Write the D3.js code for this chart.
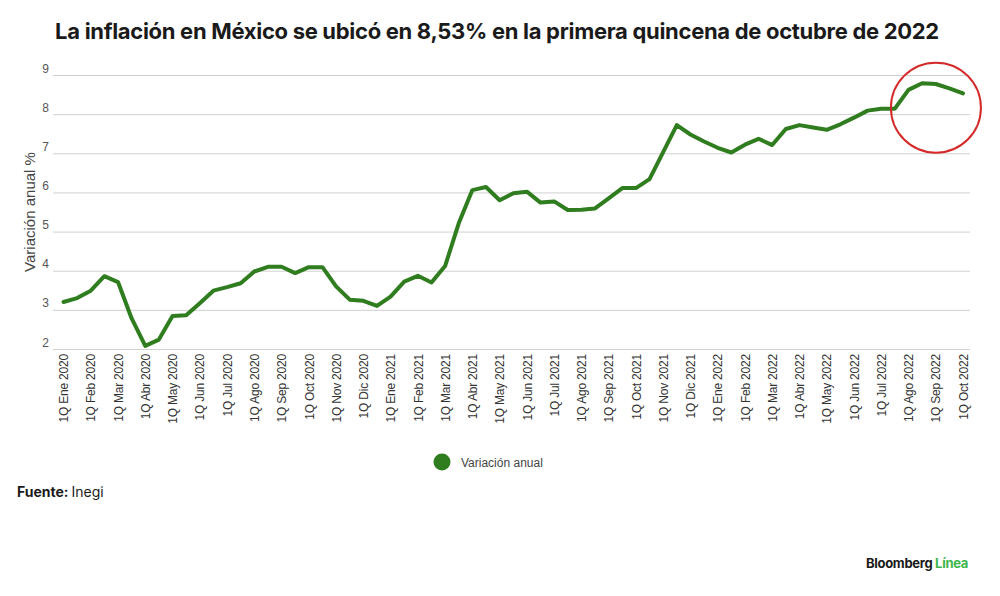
<!DOCTYPE html>
<html>
<head>
<meta charset="utf-8">
<script src="https://cdn.jsdelivr.net/npm/d3@7"></script>
<style>
  html, body { margin: 0; padding: 0; background: #fff; }
  svg { display: block; }
</style>
</head>
<body>
<svg id="chart" width="1000" height="596"></svg>
<script>
const title = "La inflación en México se ubicó en 8,53% en la primera quincena de octubre de 2022";
const seriesName = "Variación anual";
const yAxisTitle = "Variación anual %";

// Biweekly periods (1Q = primera quincena, 2Q = segunda quincena)
const periods = [
  "1Q Ene 2020","2Q Ene 2020","1Q Feb 2020","2Q Feb 2020","1Q Mar 2020","2Q Mar 2020",
  "1Q Abr 2020","2Q Abr 2020","1Q May 2020","2Q May 2020","1Q Jun 2020","2Q Jun 2020",
  "1Q Jul 2020","2Q Jul 2020","1Q Ago 2020","2Q Ago 2020","1Q Sep 2020","2Q Sep 2020",
  "1Q Oct 2020","2Q Oct 2020","1Q Nov 2020","2Q Nov 2020","1Q Dic 2020","2Q Dic 2020",
  "1Q Ene 2021","2Q Ene 2021","1Q Feb 2021","2Q Feb 2021","1Q Mar 2021","2Q Mar 2021",
  "1Q Abr 2021","2Q Abr 2021","1Q May 2021","2Q May 2021","1Q Jun 2021","2Q Jun 2021",
  "1Q Jul 2021","2Q Jul 2021","1Q Ago 2021","2Q Ago 2021","1Q Sep 2021","2Q Sep 2021",
  "1Q Oct 2021","2Q Oct 2021","1Q Nov 2021","2Q Nov 2021","1Q Dic 2021","2Q Dic 2021",
  "1Q Ene 2022","2Q Ene 2022","1Q Feb 2022","2Q Feb 2022","1Q Mar 2022","2Q Mar 2022",
  "1Q Abr 2022","2Q Abr 2022","1Q May 2022","2Q May 2022","1Q Jun 2022","2Q Jun 2022",
  "1Q Jul 2022","2Q Jul 2022","1Q Ago 2022","2Q Ago 2022","1Q Sep 2022","2Q Sep 2022",
  "1Q Oct 2022"
];

const values = [
  3.20, 3.30, 3.49, 3.86, 3.71, 2.78,
  2.08, 2.24, 2.84, 2.86, 3.17, 3.49,
  3.58, 3.68, 3.98, 4.10, 4.10, 3.94,
  4.09, 4.09, 3.60, 3.26, 3.23, 3.10,
  3.34, 3.72, 3.87, 3.70, 4.12, 5.21,
  6.06, 6.14, 5.80, 5.98, 6.02, 5.74,
  5.77, 5.55, 5.56, 5.59, 5.85, 6.11,
  6.11, 6.34, 7.03, 7.72, 7.48, 7.30,
  7.14, 7.02, 7.22, 7.37, 7.21, 7.62,
  7.72, 7.66, 7.60, 7.74, 7.91, 8.09,
  8.14, 8.14, 8.62, 8.79, 8.77, 8.66,
  8.53
];

// Axis tick labels (only the first fortnight of each month is labelled)
const xTickLabels = [
  "1Q Ene 2020","1Q Feb 2020","1Q Mar 2020","1Q Abr 2020","1Q May 2020","1Q Jun 2020",
  "1Q Jul 2020","1Q Ago 2020","1Q Sep 2020","1Q Oct 2020","1Q Nov 2020","1Q Dic 2020",
  "1Q Ene 2021","1Q Feb 2021","1Q Mar 2021","1Q Abr 2021","1Q May 2021","1Q Jun 2021",
  "1Q Jul 2021","1Q Ago 2021","1Q Sep 2021","1Q Oct 2021","1Q Nov 2021","1Q Dic 2021",
  "1Q Ene 2022","1Q Feb 2022","1Q Mar 2022","1Q Abr 2022","1Q May 2022","1Q Jun 2022",
  "1Q Jul 2022","1Q Ago 2022","1Q Sep 2022","1Q Oct 2022"
];
const yTicks = [2, 3, 4, 5, 6, 7, 8, 9];

// Highlighted range (circled in red)
const highlightPeriods = ["2Q Jul 2022", "1Q Oct 2022"];

const green = "#2f7d1f";
const svg = d3.select("#chart");

const x = d3.scalePoint().domain(periods).range([63.5, 963]);
const y = d3.scaleLinear().domain([2, 9]).range([349, 75]);

// Title
svg.append("text")
  .attr("x", 497).attr("y", 39)
  .attr("text-anchor", "middle")
  .style("font-family", "Inter, 'Liberation Sans', sans-serif")
  .style("font-weight", 700)
  .style("font-size", "22px")
  .style("letter-spacing", "-0.3px")
  .style("fill", "#1a1a1a")
  .text(title);

// Grid lines + y labels
const yAxis = d3.axisLeft(y).tickValues(yTicks).tickSize(-917).tickFormat(d3.format("d"));
const gy = svg.append("g").attr("transform", "translate(53,0)").call(yAxis);
gy.select(".domain").remove();
gy.selectAll(".tick line").attr("stroke", "#d0d0d0").attr("stroke-width", 1);
gy.selectAll(".tick text")
  .attr("x", -4).attr("dy", "-0.25em")
  .attr("text-anchor", "end")
  .style("font-family", "'Liberation Sans', Arial, sans-serif")
  .style("font-size", "12px")
  .style("fill", "#555");

// Y axis title
svg.append("text")
  .attr("transform", "translate(35,212) rotate(-90)")
  .attr("text-anchor", "middle")
  .style("font-family", "'Liberation Sans', Arial, sans-serif")
  .style("font-size", "15px")
  .style("fill", "#444")
  .text(yAxisTitle);

// X axis labels
const xAxis = d3.axisBottom(x).tickValues(xTickLabels).tickSize(0).tickPadding(0);
const gx = svg.append("g").attr("transform", "translate(0,352)").call(xAxis);
gx.select(".domain").remove();
gx.selectAll(".tick text")
  .attr("transform", "rotate(-90)")
  .attr("x", -2).attr("y", 0).attr("dy", "0.35em")
  .attr("text-anchor", "end")
  .style("font-family", "'Liberation Sans', Arial, sans-serif")
  .style("font-size", "12px")
  .style("letter-spacing", "-0.2px")
  .style("fill", "#333");

// Line
const line = d3.line().x((d, i) => x(periods[i])).y(d => y(d));
svg.append("path")
  .datum(values)
  .attr("d", line)
  .attr("fill", "none")
  .attr("stroke", green)
  .attr("stroke-width", 4)
  .attr("stroke-linejoin", "round")
  .attr("stroke-linecap", "round");

// Red circle highlight
const hx0 = x(highlightPeriods[0]), hx1 = x(highlightPeriods[1]);
const hIdx0 = periods.indexOf(highlightPeriods[0]), hIdx1 = periods.indexOf(highlightPeriods[1]);
const hVals = values.slice(hIdx0, hIdx1 + 1);
const cx = (hx0 + hx1) / 2 + 7;
const cy = y(d3.min(hVals)) - 1;
svg.append("circle")
  .attr("cx", cx).attr("cy", cy).attr("r", 45)
  .attr("fill", "none")
  .attr("stroke", "#d42a2a")
  .attr("stroke-width", 2);

// Legend
svg.append("circle").attr("cx", 442).attr("cy", 462).attr("r", 8.5).attr("fill", green);
svg.append("text")
  .attr("x", 461).attr("y", 466.5)
  .style("font-family", "'Liberation Sans', Arial, sans-serif")
  .style("font-size", "12px")
  .style("fill", "#444")
  .text(seriesName);

// Source
const src = svg.append("text")
  .attr("x", 17).attr("y", 497)
  .style("font-family", "Inter, 'Liberation Sans', sans-serif")
  .style("font-size", "14px")
  .style("fill", "#1a1a1a");
src.append("tspan").style("font-weight", 700).text("Fuente:");
src.append("tspan").attr("dx", 3).style("font-weight", 400).text("Inegi");

// Brand
const brand = svg.append("text")
  .attr("x", 968).attr("y", 568)
  .attr("text-anchor", "end")
  .style("font-family", "Inter, 'Liberation Sans', sans-serif")
  .style("font-size", "13px")
  .style("font-weight", 700)
  .style("letter-spacing", "-0.3px");
brand.append("tspan").style("fill", "#1a1a1a").text("Bloomberg ");
brand.append("tspan").style("fill", "#3db54a").text("Línea");
</script>
</body>
</html>
